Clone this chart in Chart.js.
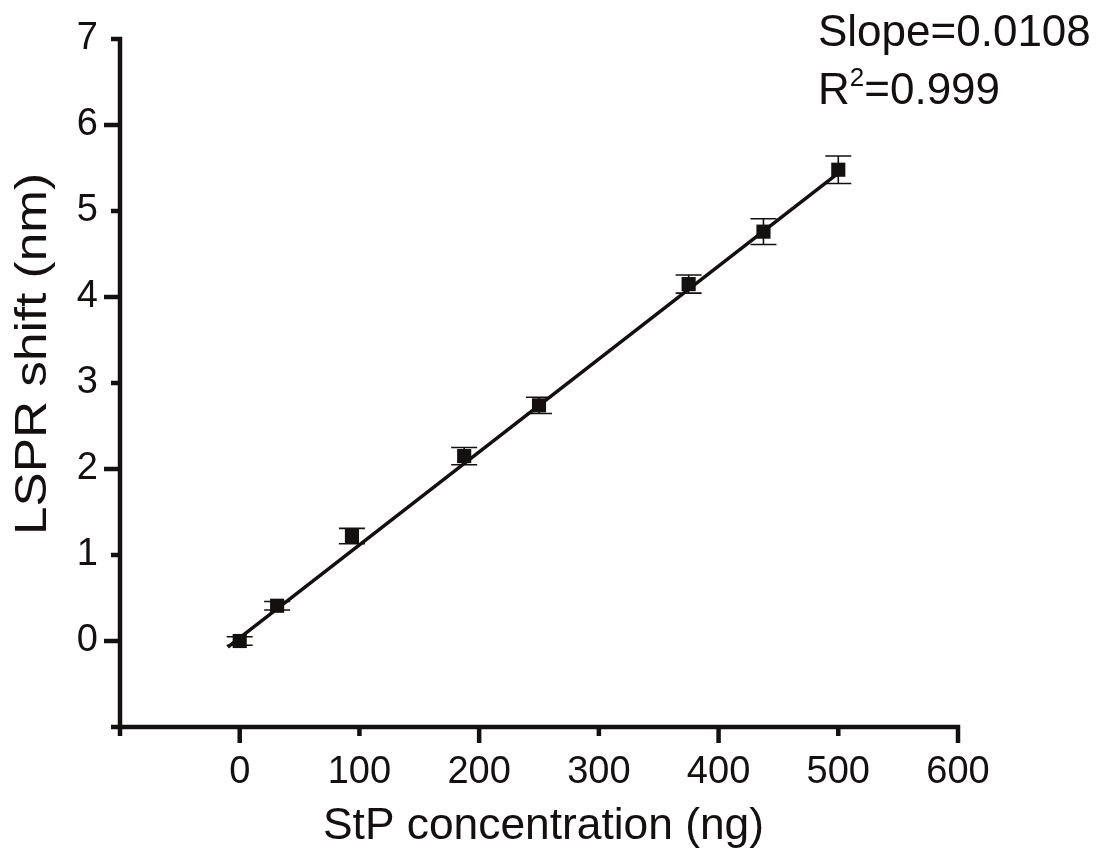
<!DOCTYPE html>
<html lang="en">
<head>
<meta charset="UTF-8">
<title>LSPR shift vs StP concentration</title>
<script src="https://cdn.jsdelivr.net/npm/chart.js@4"></script>
<style>
  html, body { margin: 0; padding: 0; background: #fff; }
  #wrap { width: 1096px; height: 861px; }
</style>
</head>
<body>
<div id="wrap"><canvas id="lsprChart"></canvas></div>
<script>
  // measured points (ng, nm) and their error bars
  var concentration = [0, 31.25, 93.75, 187.5, 250, 375, 437.5, 500];
  var lsprShift = [0.0, 0.41, 1.22, 2.15, 2.74, 4.15, 4.76, 5.48];
  var shiftError = [0.05, 0.05, 0.09, 0.10, 0.095, 0.105, 0.15, 0.16];

  // linear fit line end points
  var fitX = [-10, 500];
  var fitY = [-0.07, 5.44];

  // axis ticks
  var xTicks = [-100, 0, 100, 200, 300, 400, 500, 600];
  var xTickLabels = ['', '0', '100', '200', '300', '400', '500', '600'];
  var yTicks = [-1, 0, 1, 2, 3, 4, 5, 6, 7];
  var yTickLabels = ['', '0', '1', '2', '3', '4', '5', '6', '7'];

  var xTitle = 'StP concentration (ng)';
  var yTitle = 'LSPR shift (nm)';
  var slopeText = 'Slope=0.0108';
  var r2Value = '=0.999';

  var ink = '#141010';
  var font = '"Liberation Sans", Arial, Helvetica, sans-serif';

  // draw text squeezed/stretched to a given width
  function fitText(ctx, text, x, y, width) {
    var w = ctx.measureText(text).width;
    ctx.save();
    ctx.translate(x, y);
    ctx.scale(width / w, 1);
    ctx.fillText(text, 0, 0);
    ctx.restore();
  }

  // axis lines with long (major) and short (minor) ticks, error bars, titles
  var axesPlugin = {
    id: 'axesPlugin',
    beforeDatasetsDraw: function (chart) {
      var ctx = chart.ctx;
      var xs = chart.scales.x, ys = chart.scales.y;
      ctx.save();
      ctx.strokeStyle = ink;
      ctx.lineWidth = 1.6;
      for (var i = 0; i < concentration.length; i++) {
        var px = xs.getPixelForValue(concentration[i]);
        var top = ys.getPixelForValue(lsprShift[i] + shiftError[i]);
        var bot = ys.getPixelForValue(lsprShift[i] - shiftError[i]);
        ctx.beginPath();
        ctx.moveTo(px, top); ctx.lineTo(px, bot);
        ctx.moveTo(px - 13, top); ctx.lineTo(px + 13, top);
        ctx.moveTo(px - 13, bot); ctx.lineTo(px + 13, bot);
        ctx.stroke();
      }
      ctx.restore();
    },
    afterDraw: function (chart) {
      var ctx = chart.ctx;
      var xs = chart.scales.x, ys = chart.scales.y;
      var a = chart.chartArea;
      ctx.save();
      ctx.strokeStyle = ink;
      ctx.lineWidth = 4.5;
      ctx.lineCap = 'butt';
      ctx.beginPath();
      ctx.moveTo(a.left - 2, a.bottom); ctx.lineTo(a.right + 2, a.bottom);
      ctx.moveTo(a.left, a.bottom + 2); ctx.lineTo(a.left, a.top - 2);
      xTicks.forEach(function (v) {
        var px = xs.getPixelForValue(v);
        var len = (v % 200 === 0) ? 16 : 9;
        ctx.moveTo(px, a.bottom - 2); ctx.lineTo(px, a.bottom + len);
      });
      yTicks.forEach(function (v) {
        var py = ys.getPixelForValue(v);
        var len = (v % 2 === 0) ? 16 : 9;
        ctx.moveTo(a.left + 2, py); ctx.lineTo(a.left - len, py);
      });
      ctx.stroke();

      ctx.fillStyle = ink;
      // axis titles
      ctx.font = '44px ' + font;
      ctx.textAlign = 'left';
      ctx.textBaseline = 'alphabetic';
      fitText(ctx, xTitle, 323, 839, 441);
      ctx.save();
      ctx.translate(46, 535);
      ctx.rotate(-Math.PI / 2);
      fitText(ctx, yTitle, 0, 0, 362);
      ctx.restore();

      // fit annotation
      ctx.font = '44px ' + font;
      ctx.fillText(slopeText, 818, 46);
      ctx.fillText('R', 818, 104);
      var rw = ctx.measureText('R').width;
      ctx.font = '26px ' + font;
      ctx.fillText('2', 818 + rw, 86);
      var sw = ctx.measureText('2').width;
      ctx.font = '44px ' + font;
      ctx.fillText(r2Value, 818 + rw + sw, 104);
      ctx.restore();
    }
  };

  var fitPoints = fitX.map(function (x, i) { return { x: x, y: fitY[i] }; });
  var dataPoints = concentration.map(function (x, i) { return { x: x, y: lsprShift[i] }; });

  var ctx = document.getElementById('lsprChart').getContext('2d');
  var lsprChart = new Chart(ctx, {
    type: 'scatter',
    data: {
      datasets: [{
        label: 'Fit',
        data: fitPoints,
        showLine: true,
        borderColor: ink,
        borderWidth: 3.5,
        pointRadius: 0,
        order: 2
      }, {
        label: 'LSPR shift',
        data: dataPoints,
        pointStyle: 'rect',
        pointRadius: 10,
        backgroundColor: ink,
        borderWidth: 0,
        order: 1
      }]
    },
    options: {
      responsive: true,
      maintainAspectRatio: false,
      animation: false,
      layout: { padding: { left: 0, right: 138, top: 39, bottom: 0 } },
      plugins: {
        legend: { display: false },
        tooltip: { enabled: false }
      },
      scales: {
        x: {
          type: 'linear',
          min: -100,
          max: 600,
          afterBuildTicks: function (s) { s.ticks = xTicks.map(function (v) { return { value: v }; }); },
          afterFit: function (s) { s.height = 134; },
          grid: { display: false, drawTicks: true, tickLength: 14 },
          border: { display: false },
          ticks: {
            padding: 9,
            maxRotation: 0,
            autoSkip: false,
            color: ink,
            font: { size: 38, family: font },
            callback: function (v) { return xTickLabels[xTicks.indexOf(v)]; }
          }
        },
        y: {
          type: 'linear',
          min: -1,
          max: 7,
          afterBuildTicks: function (s) { s.ticks = yTicks.map(function (v) { return { value: v }; }); },
          afterFit: function (s) { s.width = 120; },
          grid: { display: false, drawTicks: true, tickLength: 14 },
          border: { display: false },
          ticks: {
            padding: 8,
            autoSkip: false,
            color: ink,
            font: { size: 38, family: font },
            callback: function (v) { return yTickLabels[yTicks.indexOf(v)]; }
          }
        }
      }
    },
    plugins: [axesPlugin]
  });
</script>
</body>
</html>
